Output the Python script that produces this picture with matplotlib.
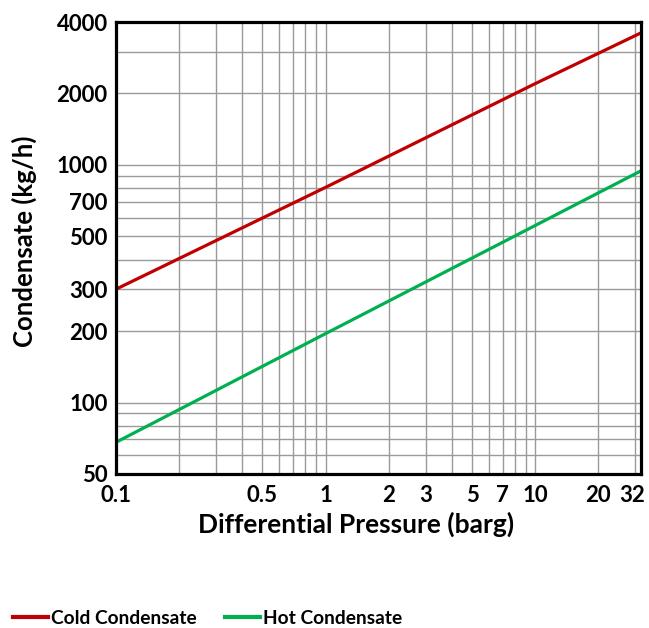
import matplotlib.pyplot as plt
import matplotlib.transforms as mtransforms
from matplotlib.ticker import NullFormatter

# data
pressure = [0.1, 1, 10, 32]
cold_condensate = [300, 805, 2200, 3600]
hot_condensate = [68, 195, 556, 945]

x_ticks = [0.1, 0.5, 1, 2, 3, 5, 7, 10, 20, 32]
x_tick_labels = ["0.1", "0.5", "1", "2", "3", "5", "7", "10", "20", "32"]
y_ticks = [50, 100, 200, 300, 500, 700, 1000, 2000, 4000]
y_tick_labels = ["50", "100", "200", "300", "500", "700", "1000", "2000", "4000"]

x_grid = [0.2, 0.3, 0.4, 0.5, 0.6, 0.7, 0.8, 0.9, 1, 2, 3, 4, 5, 6, 7, 8, 9, 10, 20, 30]
y_grid = [60, 70, 80, 90, 100, 200, 300, 400, 500, 600, 700, 800, 900, 1000, 2000, 3000]

plt.rcParams['font.family'] = ['Lato', 'DejaVu Sans']

fig = plt.figure(figsize=(6.49, 6.28), dpi=100)
ax = fig.add_axes([116 / 649, 1 - 474 / 628, 525 / 649, 452 / 628])

ax.set_xscale('log')
ax.set_yscale('log')
ax.set_xlim(0.1, 32)
ax.set_ylim(50, 4000)

# grid lines at the chart's positions
for gx in x_grid:
    ax.axvline(gx, color='#9a9a9a', lw=1, zorder=1)
for gy in y_grid:
    ax.axhline(gy, color='#9a9a9a', lw=1, zorder=1)

ax.plot(pressure, cold_condensate, color='#C00000', lw=2.3, label='Cold Condensate', zorder=3)
ax.plot(pressure, hot_condensate, color='#00B050', lw=2.3, label='Hot Condensate', zorder=3)

ax.xaxis.set_minor_formatter(NullFormatter())
ax.yaxis.set_minor_formatter(NullFormatter())
ax.set_xticks(x_ticks)
ax.set_xticklabels(x_tick_labels)
ax.set_yticks(y_ticks)
ax.set_yticklabels(y_tick_labels)
ax.tick_params(which='both', length=0, labelsize=16)
ax.tick_params(axis='x', pad=8)
ax.tick_params(axis='y', pad=6)
for lab in ax.get_xticklabels() + ax.get_yticklabels():
    lab.set_fontweight('bold')

# last x label sits left of its tick, like the reference
last = ax.get_xticklabels()[-1]
last.set_horizontalalignment('right')
last.set_transform(last.get_transform() + mtransforms.ScaledTranslation(4 / 100, 0, fig.dpi_scale_trans))

for sp in ax.spines.values():
    sp.set_linewidth(2.3)
    sp.set_color('black')
    sp.set_zorder(4)

ax.set_xlabel("Differential Pressure (barg)", fontsize=19, fontweight='bold')
ax.set_ylabel("Condensate (kg/h)", fontsize=18.5, fontweight='bold')
ax.xaxis.set_label_coords((356 - 116) / 525, -(512 - 474) / 452)
ax.yaxis.set_label_coords(-(116 - 37) / 525, (474 - 241) / 452)

leg = fig.legend(loc='center left', bbox_to_anchor=(-0.007, 1 - 618 / 628), ncol=2, frameon=False,
                 handlelength=1.85, handletextpad=0.15, columnspacing=1.45,
                 prop={'size': 13.8, 'weight': 'bold'})
for line in leg.get_lines():
    line.set_linewidth(3)

plt.savefig("out.png", dpi=100)
